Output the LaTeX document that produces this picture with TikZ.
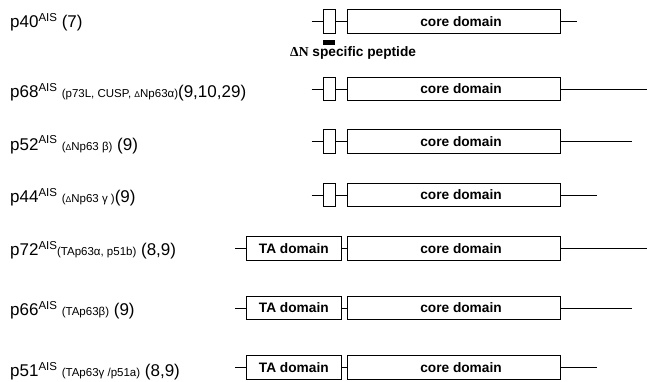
\documentclass[tikz,border=0pt]{standalone}
\usepackage{fontspec}
\setmainfont{Liberation Sans}
\newfontfamily\serifbf{Liberation Serif}
% superscript tag and the smaller synonym text in the labels
\newcommand\ais{\raisebox{6pt}{\fontsize{11.5}{12}\selectfont AIS}}
\newcommand\smtxt[1]{{\fontsize{11.5}{12}\selectfont #1}}
\newcommand\smD{{\fontsize{8.5}{9}\selectfont Δ}}
\begin{document}
\begin{tikzpicture}[x=1pt,y=-1pt,
  dom/.style={draw, line width=0.9pt, rectangle, inner sep=0pt,
    minimum height=23.5pt, font=\fontsize{13.7}{16}\selectfont\bfseries},
  small/.style={dom, minimum width=11.7pt},
  core/.style={dom, minimum width=213.4pt},
  ta/.style={dom, minimum width=95.7pt},
  link/.style={line width=0.8pt},
  heavy/.style={line width=1.4pt},
  lab/.style={anchor=base west, inner sep=0pt, font=\fontsize{17}{20}\selectfont}
]
\useasboundingbox (0,0) rectangle (647,382);

% ---- isoforms with the short N-terminal peptide ----
% row 1
\node[small] (s1) at (329.2,21.5) {};
\node[core]  (c1) at (454,21.5) {\hspace*{14pt}core domain};
\coordinate (l1) at (311.7,21.5);
\coordinate (r1) at (576.7,21.5);
\draw[link] (l1) -- (s1.west);
\draw[link] (s1.east) -- (c1.west);
\draw[heavy] (c1.east) -- (r1);
\node[fill=black, inner sep=0pt, minimum width=12.5pt, minimum height=4.5pt] (bar) at (329,42.5) {};
\node[anchor=base west, inner sep=0pt, font=\fontsize{13.7}{16}\selectfont\bfseries] (pep) at (290,57)
  {{\serifbf\bfseries Δ{}N} specific peptide};
\node[lab] (t1) at (10,27.7) {p40\ais{} (7)};

% row 2
\node[small] (s2) at (329.2,89) {};
\node[core]  (c2) at (454,89) {\hspace*{14pt}core domain};
\coordinate (l2) at (311.7,89);
\coordinate (r2) at (647,89);
\draw[link] (l2) -- (s2.west);
\draw[link] (s2.east) -- (c2.west);
\draw[link] (c2.east) -- (r2);
\node[lab] (t2) at (10,98) {p68\ais{} \smtxt{(p73L, CUSP, \smD Np63α)}(9,10,29)};

% row 3
\node[small] (s3) at (329.2,141.5) {};
\node[core]  (c3) at (454,141.5) {\hspace*{14pt}core domain};
\coordinate (l3) at (311.7,141.5);
\coordinate (r3) at (632,141.5);
\draw[link] (l3) -- (s3.west);
\draw[link] (s3.east) -- (c3.west);
\draw[link] (c3.east) -- (r3);
\node[lab] (t3) at (10,150) {p52\ais{} \smtxt{(\smD Np63 β)} (9)};

% row 4
\node[small] (s4) at (329.2,195) {};
\node[core]  (c4) at (454,195) {\hspace*{14pt}core domain};
\coordinate (l4) at (311.7,195);
\coordinate (r4) at (597,195);
\draw[link] (l4) -- (s4.west);
\draw[link] (s4.east) -- (c4.west);
\draw[link] (c4.east) -- (r4);
\node[lab] (t4) at (10,202) {p44\ais{} \smtxt{(\smD Np63 γ )}(9)};

% ---- isoforms with the transactivation domain ----
% row 5
\node[ta]   (a5) at (293.8,248.3) {TA domain};
\node[core] (c5) at (454,248.3) {\hspace*{14pt}core domain};
\coordinate (l5) at (235,248.3);
\coordinate (r5) at (647,248.3);
\draw[link] (l5) -- (a5.west);
\draw[link] (a5.east) -- (c5.west);
\draw[link] (c5.east) -- (r5);
\node[lab] (t5) at (10,255) {p72\ais\smtxt{(TAp63α, p51b)} (8,9)};

% row 6
\node[ta]   (a6) at (293.8,308) {TA domain};
\node[core] (c6) at (454,308) {\hspace*{14pt}core domain};
\coordinate (l6) at (235,308);
\coordinate (r6) at (632,308);
\draw[link] (l6) -- (a6.west);
\draw[link] (a6.east) -- (c6.west);
\draw[link] (c6.east) -- (r6);
\node[lab] (t6) at (10,315) {p66\ais{} \smtxt{(TAp63β)} (9)};

% row 7
\node[ta]   (a7) at (293.8,367.3) {TA domain};
\node[core] (c7) at (454,367.3) {\hspace*{14pt}core domain};
\coordinate (l7) at (235,367.3);
\coordinate (r7) at (597,367.3);
\draw[link] (l7) -- (a7.west);
\draw[link] (a7.east) -- (c7.west);
\draw[heavy] (c7.east) -- (r7);
\node[lab] (t7) at (10,376) {p51\ais{} \smtxt{(TAp63γ /p51a)} (8,9)};
\end{tikzpicture}
\end{document}
